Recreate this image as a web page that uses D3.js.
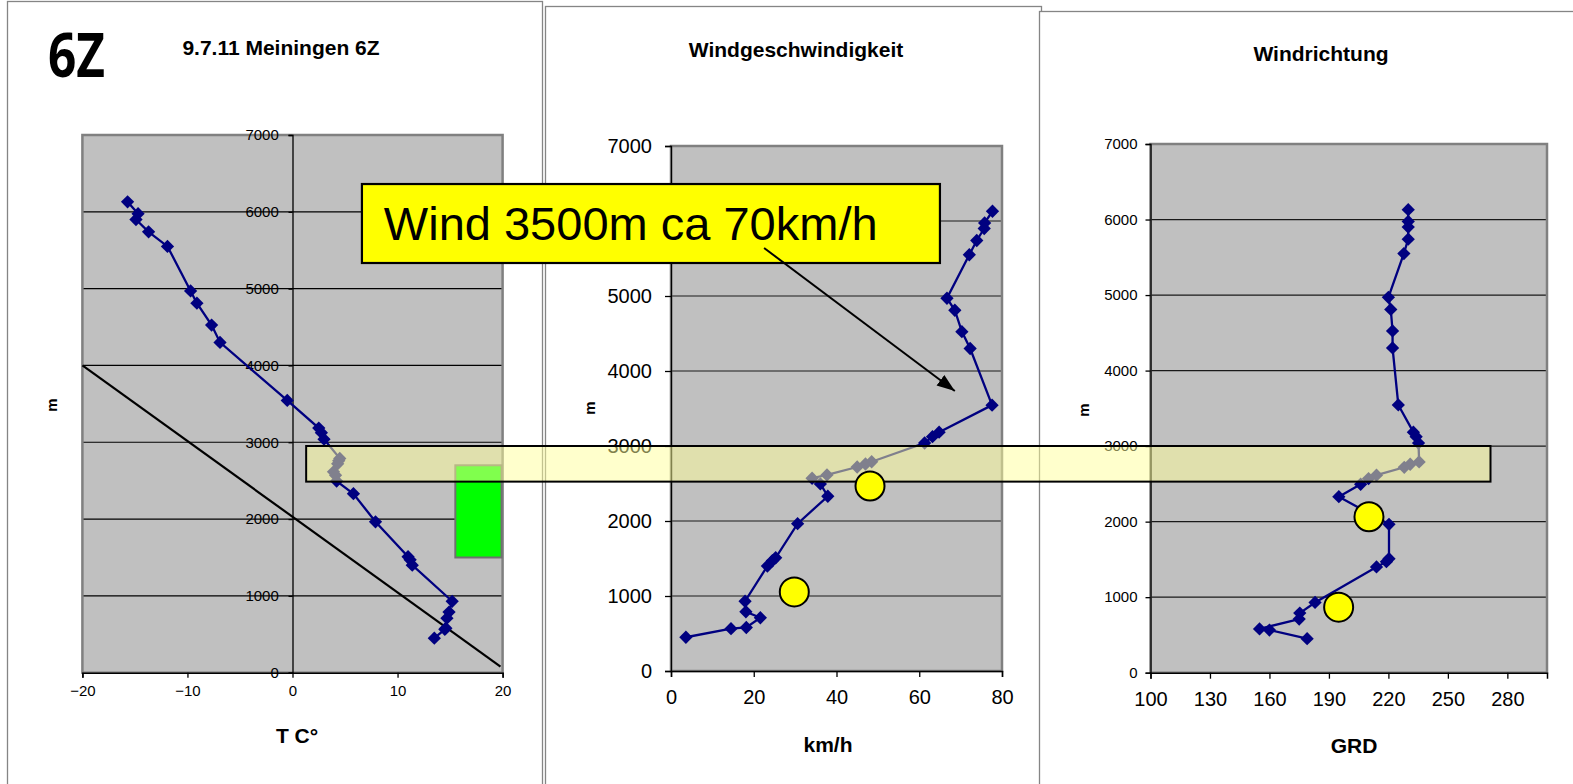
<!DOCTYPE html>
<html><head><meta charset="utf-8">
<script src="https://cdn.jsdelivr.net/npm/d3@7"></script>
<style>
html,body{margin:0;padding:0;background:#fff;overflow:hidden;}
svg{display:block;font-family:"Liberation Sans",Arial,sans-serif;}
</style></head><body>
<svg id="c" width="1573" height="784"></svg>
<script>
// ---- data ----
const heights  = [450,565,580,710,790,930,1400,1470,1510,1965,2330,2495,2570,2615,2720,2760,2790,3040,3125,3185,3545,4300,4525,4810,4970,5550,5740,5900,5975,6130];
const tempC    = [13.5,14.5,14.6,14.7,14.9,15.2,11.4,11.2,11.0,7.9,5.8,4.2,4.1,3.9,4.3,4.4,4.5,3.0,2.75,2.5,-0.5,-6.9,-7.7,-9.1,-9.7,-11.9,-13.7,-14.9,-14.7,-15.7];
const speedKmh = [3.6,14.5,18.2,21.6,18.1,17.9,23.3,24.5,25.3,30.6,37.9,36.1,34.1,37.7,45.0,47.0,48.5,61.3,63.2,64.8,77.6,72.3,70.3,68.6,66.7,72.1,73.9,75.7,75.8,77.7];
const dirDeg   = [179,160,155,175,175.3,183,214,219,220.3,220.3,195,206,210,214,228,231,235.5,235.2,234,232.6,225,222.1,222.1,221.2,220,227.8,230,230,230,230];

const heightTicks = [0,1000,2000,3000,4000,5000,6000,7000];
const tempTicks   = [-20,-10,0,10,20];
const speedTicks  = [0,20,40,60,80];
const dirTicks    = [100,130,160,190,220,250,280];

const dryAdiabat  = [[-20,4000],[19.8,80]];
const thermalT    = [15.5,19.9];
const thermalH    = [1500,2700];
const speedMarks  = [[48.1,2466],[29.8,1055]];
const dirMarks    = [[210.2,2065],[194.9,868]];
const bandH       = [2525,3000];
const bandFromT   = 1.3;
const bandToDeg   = 271.5;
const noteSpeed   = [-74.7,65.0];
const noteH       = [5440,6493];
const noteTextAt  = [-69.4,5747];
const arrowFrom   = [22.5,5640];
const arrowTo     = [68.6,3733];

// ---- layout ----
const svg = d3.select('#c');
const defs = svg.append('defs');
defs.append('marker').attr('id','ah').attr('markerUnits','userSpaceOnUse')
  .attr('markerWidth',20).attr('markerHeight',14).attr('refX',18).attr('refY',6.5).attr('orient','auto')
  .append('path').attr('d','M0,0 L18,6.5 L0,13 Z').attr('fill','#000');

const frames = [{x:7.5,y:1.5,w:535,h:800},{x:545.5,y:6.5,w:496,h:800},{x:1039.5,y:11.5,w:600,h:800}];
svg.selectAll('rect.frame').data(frames).join('rect').attr('class','frame')
  .attr('x',d=>d.x).attr('y',d=>d.y).attr('width',d=>d.w).attr('height',d=>d.h)
  .attr('fill','#fff').attr('stroke','#858585').attr('stroke-width',1.3);

const P1 = {x:d3.scaleLinear().domain([-20,20]).range([82.4,502.6]), y:d3.scaleLinear().domain([0,7000]).range([672.7,135])};
const P2 = {x:d3.scaleLinear().domain([0,80]).range([671,1002]),     y:d3.scaleLinear().domain([0,7000]).range([671,146])};
const P3 = {x:d3.scaleLinear().domain([100,300]).range([1150.5,1547]),y:d3.scaleLinear().domain([0,7000]).range([672.7,144])};

function plotArea(P, opt){
  const g = svg.append('g');
  const [x0,x1] = P.x.range(), [yb,yt] = P.y.range();
  g.append('rect').attr('x',x0).attr('y',yt).attr('width',x1-x0).attr('height',yb-yt).attr('fill','#c0c0c0');
  g.selectAll('line.grid').data(heightTicks.filter(v=>v>0&&v<7000)).join('line')
    .attr('x1',x0).attr('x2',x1).attr('y1',d=>P.y(d)).attr('y2',d=>P.y(d))
    .attr('stroke',opt.gridColor).attr('stroke-width',1.2);
  g.append('rect').attr('x',x0).attr('y',yt).attr('width',x1-x0).attr('height',yb-yt)
    .attr('fill','none').attr('stroke','#808080').attr('stroke-width',2.5);
  // y axis
  const ya = g.append('g').attr('transform',`translate(${opt.yAxisAt},0)`)
    .call(d3.axisLeft(P.y).tickValues(heightTicks).tickFormat(d3.format('d')).tickSize(opt.yTick).tickPadding(opt.yPad));
  ya.select('.domain').attr('stroke','#000').attr('stroke-width',1.3);
  ya.selectAll('.tick line').attr('stroke','#000').attr('stroke-width',1.3);
  ya.selectAll('text').attr('font-size',opt.yFont).attr('fill','#000').attr('font-family','"Liberation Sans",Arial,sans-serif');
  // x axis
  const xa = g.append('g').attr('transform',`translate(0,${P.y(0)})`)
    .call(d3.axisBottom(P.x).tickValues(opt.xTicks).tickSize(opt.xTick).tickPadding(opt.xPad));
  xa.select('.domain').attr('stroke','#000').attr('stroke-width',1.5);
  xa.selectAll('.tick line').attr('stroke','#000').attr('stroke-width',1.3);
  xa.selectAll('text').attr('font-size',opt.xFont).attr('fill','#000').attr('font-family','"Liberation Sans",Arial,sans-serif');
  return g;
}

function series(P, xs){
  const pts = xs.map((v,i)=>[v,heights[i]]);
  const g = svg.append('g');
  g.append('path').datum(pts).attr('fill','none').attr('stroke','#000080').attr('stroke-width',2.3)
    .attr('d',d3.line().x(d=>P.x(d[0])).y(d=>P.y(d[1])));
  g.selectAll('path.m').data(pts).join('path').attr('class','m')
    .attr('d',d3.symbol(d3.symbolSquare,88)())
    .attr('transform',d=>`translate(${P.x(d[0])},${P.y(d[1])}) rotate(45)`)
    .attr('fill','#000080');
}

function text(x,y,s,opt){
  const t = svg.append('text').attr('x',x).attr('y',y).text(s)
    .attr('font-size',opt.size).attr('font-weight',opt.bold?'bold':'normal')
    .attr('text-anchor',opt.anchor||'middle').attr('fill','#000');
  if(opt.family) t.attr('font-family',opt.family);
  if(opt.len) t.attr('textLength',opt.len).attr('lengthAdjust','spacingAndGlyphs');
  if(opt.rot) t.attr('transform',`rotate(-90,${x},${y})`);
  return t;
}

// Panel 1
plotArea(P1,{gridColor:'#000',yAxisAt:P1.x(0),yTick:4,yPad:9.7,yFont:15,xTicks:tempTicks,xTick:5,xPad:7.6,xFont:15});
svg.append('rect').attr('x',P1.x(thermalT[0])).attr('y',P1.y(thermalH[1]))
  .attr('width',P1.x(thermalT[1])-P1.x(thermalT[0])).attr('height',P1.y(thermalH[0])-P1.y(thermalH[1]))
  .attr('fill','#00ff00').attr('stroke','#707070').attr('stroke-width',2);
svg.append('path').datum(dryAdiabat).attr('fill','none').attr('stroke','#000').attr('stroke-width',2.2)
  .attr('d',d3.line().x(d=>P1.x(d[0])).y(d=>P1.y(d[1])));
series(P1,tempC);

// Panel 2
plotArea(P2,{gridColor:'#1a1a1a',yAxisAt:P2.x(0),yTick:6,yPad:13,yFont:20,xTicks:speedTicks,xTick:6,xPad:13,xFont:20});
series(P2,speedKmh);

// Panel 3
plotArea(P3,{gridColor:'#1a1a1a',yAxisAt:P3.x(100),yTick:5,yPad:8,yFont:15,xTicks:dirTicks,xTick:6,xPad:13,xFont:20});
series(P3,dirDeg);

// titles
text(48,77,'6Z',{size:60,bold:true,anchor:'start',family:'"Open Sans", Lato, sans-serif',len:57});
text(281,55,'9.7.11 Meiningen 6Z',{size:21,bold:true});
text(796,56.7,'Windgeschwindigkeit',{size:21,bold:true});
text(1321,60.5,'Windrichtung',{size:21,bold:true});
text(297,743,'T C°',{size:21,bold:true});
text(828,752,'km/h',{size:21,bold:true});
text(1354,753,'GRD',{size:21,bold:true});
text(57,405,'m',{size:15,bold:true,rot:true});
text(595,408,'m',{size:15,bold:true,rot:true});
text(1089,410,'m',{size:15,bold:true,rot:true});

// translucent band across all three charts
svg.append('rect').attr('x',P1.x(bandFromT)).attr('y',P2.y(bandH[1]))
  .attr('width',P3.x(bandToDeg)-P1.x(bandFromT)).attr('height',P2.y(bandH[0])-P2.y(bandH[1]))
  .attr('fill','#ffff99').attr('fill-opacity',0.5).attr('stroke','#000').attr('stroke-width',2);

// yellow circles
svg.selectAll('circle.s').data(speedMarks).join('circle').attr('class','s')
  .attr('cx',d=>P2.x(d[0])).attr('cy',d=>P2.y(d[1])).attr('r',14.5)
  .attr('fill','#ffff00').attr('stroke','#000').attr('stroke-width',2);
svg.selectAll('circle.d').data(dirMarks).join('circle').attr('class','d')
  .attr('cx',d=>P3.x(d[0])).attr('cy',d=>P3.y(d[1])).attr('r',14.5)
  .attr('fill','#ffff00').attr('stroke','#000').attr('stroke-width',2);

// annotation box + arrow
svg.append('rect').attr('x',P2.x(noteSpeed[0])).attr('y',P2.y(noteH[1]))
  .attr('width',P2.x(noteSpeed[1])-P2.x(noteSpeed[0])).attr('height',P2.y(noteH[0])-P2.y(noteH[1]))
  .attr('fill','#ffff00').attr('stroke','#000').attr('stroke-width',2.2);
text(P2.x(noteTextAt[0]),P2.y(noteTextAt[1]),'Wind 3500m ca 70km/h',{size:47,anchor:'start'});
svg.append('line').attr('x1',P2.x(arrowFrom[0])).attr('y1',P2.y(arrowFrom[1]))
  .attr('x2',P2.x(arrowTo[0])).attr('y2',P2.y(arrowTo[1]))
  .attr('stroke','#000').attr('stroke-width',2).attr('marker-end','url(#ah)');
</script>
</body></html>
